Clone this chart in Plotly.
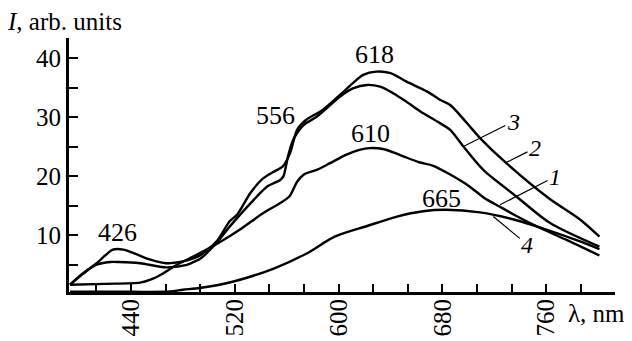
import plotly.graph_objects as go

# Curve 1 (peak ~610)
wl1 = [393, 420, 447, 455, 465, 475, 485, 493, 508, 524, 542, 555, 562, 568, 573, 583, 593, 606, 616, 624, 635, 647, 662, 673, 699, 712, 724, 737, 755, 776, 801]
i1 = [1.65, 1.8, 2.0, 2.5, 3.6, 5.0, 6.1, 7.0, 8.8, 11.0, 13.8, 15.5, 16.6, 19.1, 20.3, 21.1, 22.2, 23.7, 24.5, 24.8, 24.6, 23.65, 22.4, 21.8, 18.6, 16.4, 14.9, 13.3, 11.3, 9.2, 6.6]

# Curve 2 (peak ~618, bump at 426)
wl2 = [393, 403, 413, 420, 426, 434, 442, 455, 467, 480, 488, 493, 506, 516, 522, 532, 542, 550, 557, 562.5, 568, 575, 588, 601, 611, 619, 629, 640, 652, 668, 678, 686, 699, 709, 728, 762, 786, 801]
i2 = [1.65, 3.6, 5.2, 6.6, 7.6, 7.6, 7.0, 5.9, 5.3, 5.6, 6.1, 6.6, 9.0, 12.4, 13.6, 17.2, 19.7, 20.8, 21.7, 23.9, 27.9, 29.6, 31.3, 33.8, 35.8, 37.2, 37.75, 37.5, 36.1, 34.4, 33.0, 32.1, 29.0, 26.5, 22.5, 16.3, 12.7, 9.8]

# Curve 3 (peak ~35)
wl3 = [393, 403, 413, 424, 431, 447, 467, 483, 490, 493, 505, 516, 537, 545, 555, 557.4, 561, 565, 573, 583, 601, 611, 622, 632, 642, 652, 663, 676, 686, 696, 711.5, 737, 763, 801]
i3 = [1.65, 3.5, 5.0, 5.5, 5.5, 5.3, 4.6, 5.0, 5.7, 6.0, 8.5, 11.5, 16.6, 18.3, 19.4, 20.0, 23.4, 26.2, 28.7, 30.1, 33.5, 34.9, 35.5, 35.2, 34.1, 32.7, 31.0, 29.3, 27.9, 25.1, 21.1, 16.6, 12.1, 8.1]

# Curve 4 (peak ~665)
wl4 = [393, 440, 470, 480, 493, 519, 550, 575, 597, 622, 645, 665, 683, 709, 735, 760, 786, 801]
i4 = [0.45, 0.45, 0.5, 0.8, 1.1, 2.2, 4.4, 6.9, 9.8, 11.6, 13.2, 14.1, 14.35, 13.9, 12.7, 11.0, 9.0, 7.7]

peak_text = ["426", "556", "618", "610", "665"]
peak_x = [429.2, 551, 627.3, 624.2, 679.5]
peak_y = [10.5, 30.4, 40.6, 27.2, 16.3]

curve_names = ["1", "2", "3", "4"]
leader_x = [724.4, 728.2, 696.1, 719.2]
leader_y = [15.2, 22.25, 25.06, 13.2]

x_tickvals = [440, 520, 600, 680, 760]
y_tickvals = [10, 20, 30, 40]

FONT = "Liberation Serif, Times New Roman, serif"

fig = go.Figure()
for wl, iv in [(wl1, i1), (wl2, i2), (wl3, i3), (wl4, i4)]:
    fig.add_trace(go.Scatter(x=wl, y=iv, mode="lines",
                             line=dict(color="black", width=2.4, shape="spline", smoothing=0.8),
                             showlegend=False, hoverinfo="skip"))

for t, x, y in zip(peak_text, peak_x, peak_y):
    fig.add_annotation(x=x, y=y, text=t, showarrow=False,
                       font=dict(family=FONT, size=26, color="black"))

offsets = [(55, -28), (30, -15), (50, -25), (34, 28)]
for name, x, y, (ax, ay) in zip(curve_names, leader_x, leader_y, offsets):
    fig.add_annotation(x=x, y=y, text="<i>%s</i>" % name, showarrow=True,
                       ax=ax, ay=ay, arrowhead=0, arrowwidth=1.2, arrowcolor="black",
                       font=dict(family=FONT, size=24, color="black"))

fig.add_annotation(xref="paper", yref="paper", x=-0.118, y=1.063, xanchor="left", yanchor="middle",
                   text="<i>I</i>, arb. units", showarrow=False,
                   font=dict(family=FONT, size=25, color="black"))
fig.add_annotation(xref="paper", yref="paper", x=0.966, y=-0.083, xanchor="center", yanchor="middle",
                   text="λ, nm", showarrow=False,
                   font=dict(family=FONT, size=25, color="black"))

fig.update_xaxes(range=[392.2, 813], showgrid=False, zeroline=False, automargin=False,
                 showline=True, linecolor="black", linewidth=3,
                 tickmode="array", tickvals=x_tickvals, ticks="inside", ticklen=8, tickwidth=2,
                 tickcolor="black", tickangle=-90, ticklabelstandoff=-6,
                 tickfont=dict(family=FONT, size=25, color="black"),
                 minor=dict(tick0=440, dtick=80 / 3, ticks="inside", ticklen=8, tickwidth=2, tickcolor="black"))
fig.update_yaxes(range=[0.42, 43.45], showgrid=False, zeroline=False, automargin=False,
                 showline=True, linecolor="black", linewidth=3,
                 tickmode="array", tickvals=y_tickvals, ticks="inside", ticklen=9, tickwidth=2,
                 tickcolor="black",
                 tickfont=dict(family=FONT, size=25, color="black"),
                 minor=dict(tick0=0, dtick=5, ticks="inside", ticklen=9, tickwidth=2, tickcolor="black"))

# page adds an 8px body margin; size the figure so the plot area lands where the reference has it
fig.update_layout(template="none", width=624, height=333, margin=dict(l=61, r=17, t=30, b=49),
                  plot_bgcolor="white", paper_bgcolor="white")

fig.write_html("out.html")
